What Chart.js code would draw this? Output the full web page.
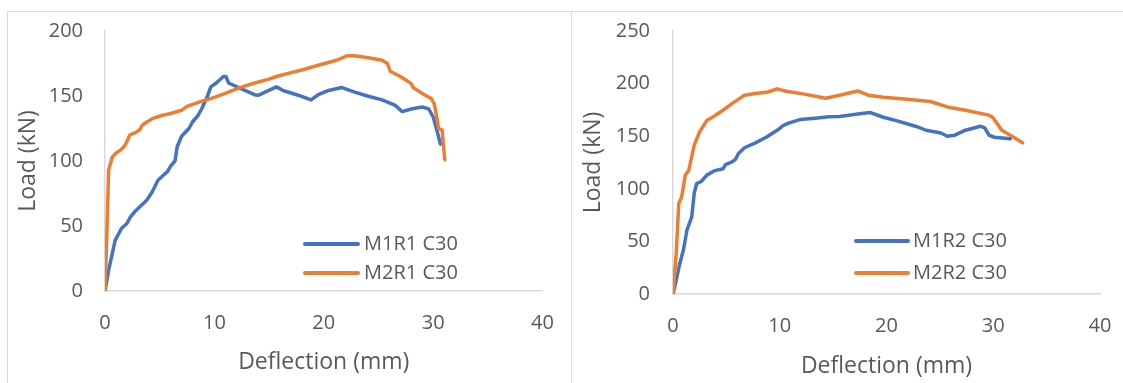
<!DOCTYPE html>
<html>
<head>
<meta charset="utf-8">
<script src="https://cdn.jsdelivr.net/npm/chart.js@4.4.1/dist/chart.umd.min.js"></script>
<style>
  body { margin: 0; background: #fff; width: 1123px; height: 383px; overflow: hidden; position: relative; font-family: "Open Sans", sans-serif; }
  .box { position: absolute; border-left: 1px solid #d9d9d9; border-top: 1px solid #d9d9d9; }
  #box1 { left: 7px; top: 11px; width: 563px; height: 380px; }
  #box2 { left: 571px; top: 11px; width: 560px; height: 380px; }
  canvas { position: absolute; }
  #chart1 { left: 8px; top: 12px; }
  #chart2 { left: 572px; top: 12px; }
</style>
</head>
<body>
<div class="box" id="box1"></div>
<div class="box" id="box2"></div>
<canvas id="chart1" width="560" height="371"></canvas>
<canvas id="chart2" width="551" height="371"></canvas>
<script>
// Deflection (mm) / Load (kN)
const m1r1X = [0, 0.33, 0.93, 1.5, 2.0, 2.33, 2.83, 3.33, 3.83, 4.3, 4.83, 5.33, 5.73, 6.0, 6.4, 6.6, 7.0, 7.67, 8.0, 8.5, 8.83, 9.33, 9.67, 10.17, 10.83, 11.05, 11.3, 12.33, 13.67, 14.0, 15.67, 16.33, 17.67, 18.83, 19.5, 20.33, 21.67, 22.83, 24.0, 25.33, 26.5, 27.17, 28.0, 29.0, 29.6, 30.0, 30.33, 30.67];
const m1r1Y = [0, 16, 39, 48, 52, 57, 62, 66, 70, 76, 85, 89, 92, 96, 100, 111, 119, 125, 130, 135, 140, 149, 157, 160, 165, 165, 160, 156, 151, 150.5, 157, 154, 150.6, 147, 151, 154, 156.5, 153, 150, 147, 143, 138, 140, 141.6, 140, 134, 124, 113];

const m2r1X = [0, 0.17, 0.33, 0.67, 1.0, 1.5, 1.83, 2.27, 2.83, 3.17, 3.4, 3.83, 4.33, 5.17, 6.0, 7.0, 7.5, 8.67, 10.0, 11.0, 12.33, 13.67, 15.0, 15.67, 17.0, 18.0, 19.67, 21.17, 22.17, 22.83, 24.33, 25.33, 25.83, 26.07, 27.0, 28.0, 28.17, 29.0, 29.83, 30.1, 30.33, 30.5, 30.83, 30.93, 31.07];
const m2r1Y = [0, 44, 93, 103, 106, 109, 112, 120, 122, 124, 127.5, 130, 132.6, 135, 136.5, 139, 142, 145.5, 149, 152, 156.5, 160, 163, 165, 168, 170, 174, 177.5, 181, 181, 179, 177.5, 175, 169, 165, 159.5, 156.5, 152, 148, 144, 134, 125, 123.7, 113, 101];

const m1r2X = [0, 0.3, 0.64, 0.98, 1.31, 1.75, 1.99, 2.22, 2.66, 3.17, 3.84, 4.68, 4.92, 5.53, 5.86, 6.13, 6.7, 7.72, 8.73, 9.9, 10.3, 10.9, 11.9, 13.3, 14.6, 15.6, 17.3, 18.5, 19.7, 21.0, 22.7, 23.7, 25.1, 25.7, 26.4, 27.4, 28.8, 29.2, 29.6, 30.1, 31.6];
const m1r2Y = [0, 13, 29, 42, 61, 73, 96, 105, 107, 113, 117, 119, 123, 125.6, 128, 133.5, 139, 143.7, 149, 156.6, 160, 162.7, 165.8, 167, 168.4, 168.7, 171, 172.5, 168, 164.6, 159.5, 155.7, 153, 150, 151, 155.7, 159.5, 158, 151, 149, 147.5];

const m2r2X = [0, 0.3, 0.54, 0.81, 1.15, 1.48, 1.99, 2.49, 3.17, 3.84, 4.68, 5.53, 6.7, 7.72, 8.9, 9.74, 10.6, 12.3, 14.3, 15.6, 17.3, 18.3, 19.7, 21.7, 24.1, 25.7, 27.4, 29.6, 29.96, 30.8, 31.6, 32.75];
const m2r2Y = [0, 38.6, 86, 92, 113, 117.7, 141.5, 154, 165, 169, 174.7, 181, 189, 190.5, 192, 195, 192.7, 190, 186, 189, 193, 189, 187, 185.4, 183, 177.8, 174.7, 170, 167.7, 155.7, 151, 143.7];

const xTicks = [0, 10, 20, 30, 40];
const yTicks1 = [0, 50, 100, 150, 200];
const yTicks2 = [0, 50, 100, 150, 200, 250];

const BLUE = '#4472C4';
const ORANGE = '#ED7D31';
const TEXT = '#595959';

const toPoints = (xs, ys) => xs.map((x, i) => ({ x: x, y: ys[i] }));

// legend drawn inside the plot area, like the Excel original
const insideLegend = {
    id: 'insideLegend',
    afterDraw(chart, args, opts) {
        const { ctx, chartArea } = chart;
        ctx.save();
        chart.data.datasets.forEach((ds, i) => {
            const x = chartArea.left + opts.left;
            const y = chartArea.top + opts.top + i * opts.rowGap;
            ctx.strokeStyle = ds.borderColor;
            ctx.lineWidth = 4;
            ctx.lineCap = 'round';
            ctx.beginPath();
            ctx.moveTo(x, y);
            ctx.lineTo(x + opts.lineLength, y);
            ctx.stroke();
            ctx.fillStyle = TEXT;
            ctx.font = '20px "Open Sans"';
            ctx.textBaseline = 'middle';
            ctx.fillText(ds.label, x + opts.lineLength + opts.gap, y);
        });
        ctx.restore();
    }
};

function series(label, xs, ys, color, order) {
    return {
        label: label,
        data: toPoints(xs, ys),
        showLine: true,
        borderColor: color,
        backgroundColor: color,
        borderWidth: 3.5,
        borderJoinStyle: 'round',
        borderCapStyle: 'round',
        pointRadius: 0,
        tension: 0,
        order: order
    };
}

// fixed axis sizes so the plot area lands where it is in the picture
function makeChart(id, datasets, yMax, yTicks, geo) {
    return new Chart(document.getElementById(id), {
        type: 'scatter',
        data: { datasets: datasets },
        options: {
            responsive: false,
            animation: false,
            layout: { autoPadding: false, padding: { top: geo.top, right: geo.right, left: 0, bottom: 0 } },
            plugins: {
                legend: { display: false },
                tooltip: { enabled: false },
                insideLegend: geo.legend
            },
            scales: {
                x: {
                    type: 'linear',
                    min: 0,
                    max: 40,
                    afterBuildTicks: s => { s.ticks = xTicks.map(v => ({ value: v })); },
                    afterFit: s => { s.height = geo.xHeight; s.paddingLeft = 0; s.paddingRight = 0; s.paddingTop = 0; s.paddingBottom = 0; },
                    grid: { display: false, drawTicks: false },
                    border: { display: true, color: '#d9d9d9', width: 1.5 },
                    ticks: { color: TEXT, font: { family: 'Open Sans', size: 20 }, padding: 20, maxRotation: 0 },
                    title: { display: true, text: 'Deflection (mm)', color: TEXT, font: { family: 'Open Sans', size: 23 }, padding: { top: 0, bottom: geo.xTitlePad } }
                },
                y: {
                    type: 'linear',
                    min: 0,
                    max: yMax,
                    afterBuildTicks: s => { s.ticks = yTicks.map(v => ({ value: v })); },
                    afterFit: s => { s.width = geo.yWidth; s.paddingLeft = 0; s.paddingRight = 0; s.paddingTop = 0; s.paddingBottom = 0; },
                    grid: { display: false, drawTicks: false },
                    border: { display: true, color: '#d9d9d9', width: 1.5 },
                    ticks: { color: TEXT, font: { family: 'Open Sans', size: 20 }, padding: geo.yTickPad },
                    title: { display: true, text: 'Load (kN)', color: TEXT, font: { family: 'Open Sans', size: 23 }, padding: { top: geo.yTitlePad, bottom: 0 } }
                }
            }
        },
        plugins: [insideLegend]
    });
}

makeChart('chart1', [
    series('M1R1 C30', m1r1X, m1r1Y, BLUE, 1),
    series('M2R1 C30', m2r1X, m2r1Y, ORANGE, 0)
], 200, yTicks1, {
    top: 19, right: 25.5, xHeight: 92, yWidth: 97, yTickPad: 22, yTitlePad: 7, xTitlePad: 7,
    legend: { left: 200, top: 213, rowGap: 29, lineLength: 53, gap: 6 }
});

makeChart('chart2', [
    series('M1R2 C30', m1r2X, m1r2Y, BLUE, 1),
    series('M2R2 C30', m2r2X, m2r2Y, ORANGE, 0)
], 250, yTicks2, {
    top: 19, right: 23, xHeight: 89, yWidth: 101, yTickPad: 23, yTitlePad: 8, xTitlePad: 3,
    legend: { left: 183, top: 210, rowGap: 32, lineLength: 52, gap: 5 }
});
</script>
</body>
</html>
